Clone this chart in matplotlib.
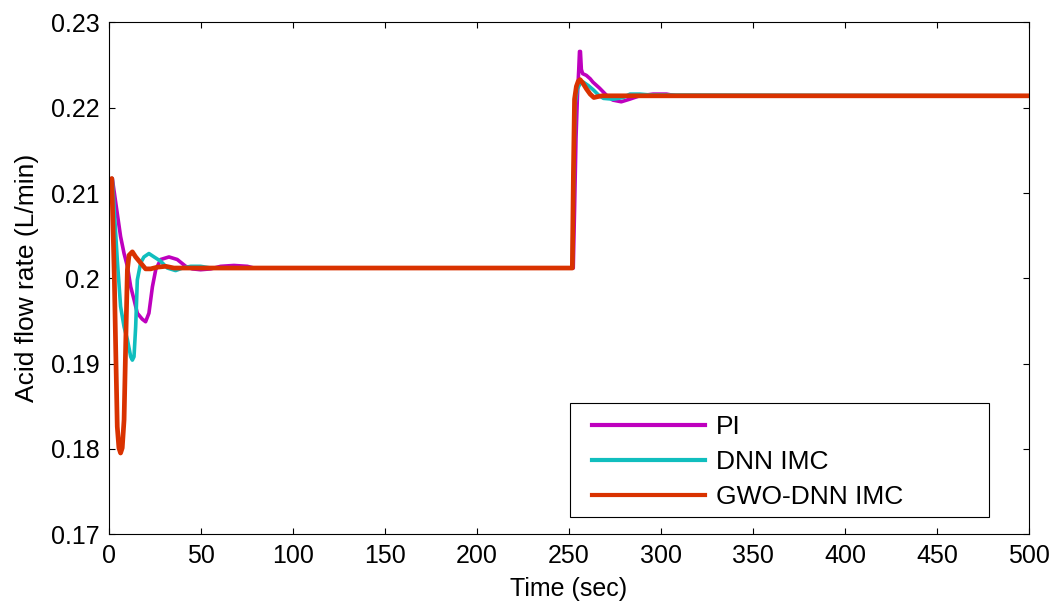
import matplotlib
matplotlib.use("Agg")
import matplotlib.pyplot as plt
from matplotlib.patches import Rectangle

plt.rcParams['font.family'] = ['Liberation Sans', 'DejaVu Sans']

# Acid flow rate responses (L/min) over time (sec), read point by point
pi_time = [0, 1.8, 4.5, 6.3, 8.2, 10.0, 11.8, 13.6, 15.4, 18.1, 19.9, 21.7, 23.6, 25.4,
           28.1, 32.6, 37.1, 41.7, 45.3, 49.8, 55.3, 60.7, 67.9, 75.2, 78.8,
           252.3, 253.0, 253.8, 254.6, 255.3, 255.7, 256.2, 256.7, 257.4, 259.4, 261.5,
           263.0, 266.6, 270.2, 273.8, 278.4, 282.9, 288.4, 295.7, 303.0, 308.0, 500]
pi_flow = [0.2108, 0.2117, 0.2076, 0.2049, 0.2029, 0.2014, 0.1990, 0.1975, 0.1959, 0.1952,
           0.1949, 0.1959, 0.1990, 0.2010, 0.2022, 0.2025, 0.2022, 0.2014, 0.2011, 0.2010,
           0.2011, 0.2014, 0.2015, 0.2014, 0.2012,
           0.2012, 0.2080, 0.2165, 0.2215, 0.2245, 0.2266, 0.2266, 0.2245, 0.2240, 0.2238,
           0.2234, 0.2230, 0.2223, 0.2215, 0.2209, 0.2207, 0.2210, 0.2214, 0.2216, 0.2216,
           0.2214, 0.2214]

dnn_time = [0, 1.8, 4.5, 6.3, 8.2, 10.0, 11.8, 12.7, 13.6, 14.5, 15.4, 17.2, 19.0, 21.7,
            24.5, 28.1, 31.7, 36.2, 39.9, 44.4, 49.8, 55.3,
            251.8, 252.5, 253.3, 254.5, 256.0, 257.8, 260.5, 263.2, 266.0, 268.7, 274.1,
            279.5, 283.1, 288.6, 294.0, 500]
dnn_flow = [0.2108, 0.2117, 0.2022, 0.1967, 0.1943, 0.1928, 0.1908, 0.1904, 0.1908, 0.1943,
            0.1998, 0.2018, 0.2025, 0.2029, 0.2025, 0.2020, 0.2012, 0.2009, 0.2012, 0.2014,
            0.2014, 0.2012,
            0.2012, 0.2120, 0.2205, 0.2222, 0.2228, 0.2230, 0.2226, 0.2221, 0.2215, 0.2211,
            0.2210, 0.2212, 0.2216, 0.2216, 0.2215, 0.2214]

gwo_time = [0, 1.5, 2.9, 3.6, 4.5, 5.4, 6.3, 7.2, 8.2, 9.1, 10.0, 10.9, 12.7, 14.5, 17.2,
            19.9, 22.6, 26.3, 30.8, 35.3,
            251.8, 252.4, 253.0, 254.0, 255.0, 256.0, 257.5, 259.5, 261.5, 263.5, 265.5,
            268.0, 500]
gwo_flow = [0.2105, 0.2117, 0.2001, 0.1923, 0.1826, 0.1801, 0.1795, 0.1801, 0.1834, 0.1924,
            0.2010, 0.2027, 0.2031, 0.2025, 0.2018, 0.2011, 0.2011, 0.2013, 0.2014, 0.2012,
            0.2012, 0.2125, 0.2210, 0.2225, 0.2231, 0.2233, 0.2229, 0.2222, 0.2216, 0.2212,
            0.2213, 0.2214, 0.2214]

x_ticks = [0, 50, 100, 150, 200, 250, 300, 350, 400, 450, 500]
y_ticks = [0.17, 0.18, 0.19, 0.2, 0.21, 0.22, 0.23]
y_tick_labels = ["0.17", "0.18", "0.19", "0.2", "0.21", "0.22", "0.23"]


def main():
    fig = plt.figure(figsize=(10.55, 6.03), dpi=100)
    ax = fig.add_axes([0.1033, 0.1144, 0.8721, 0.8483])

    ax.plot(pi_time, pi_flow, color='#BE00BE', linewidth=2.6, label="PI")
    ax.plot(dnn_time, dnn_flow, color='#10BEBE', linewidth=2.6, label="DNN IMC")
    ax.plot(gwo_time, gwo_flow, color='#D93200', linewidth=3.4, label="GWO-DNN IMC")

    ax.set_xlim(0, 500)
    ax.set_ylim(0.17, 0.23)
    ax.set_xticks(x_ticks)
    ax.set_yticks(y_ticks)
    ax.set_yticklabels(y_tick_labels)
    ax.tick_params(direction='in', top=True, right=True, length=4, width=0.8,
                   labelsize=18, pad=7)
    for s in ax.spines.values():
        s.set_linewidth(0.8)

    ax.set_xlabel("Time (sec)", fontsize=18, labelpad=7)
    ax.set_ylabel("Acid flow rate (L/min)", fontsize=19, labelpad=8)

    # legend box drawn separately so the entries can sit inset from its left edge
    ax.add_patch(Rectangle((0.501, 0.033), 0.456, 0.223, transform=ax.transAxes,
                           facecolor='white', edgecolor='black', linewidth=0.8, zorder=4))
    leg = ax.legend(loc='upper left', bbox_to_anchor=(0.525, 0.233),
                    borderaxespad=0, borderpad=0, frameon=False, fontsize=19,
                    handlelength=4.3, handletextpad=0.4, labelspacing=0.42)
    leg.set_zorder(5)
    for line in leg.get_lines():
        line.set_linewidth(3.0)

    fig.savefig("out.png", dpi=100)
    plt.close(fig)


if __name__ == "__main__":
    main()
